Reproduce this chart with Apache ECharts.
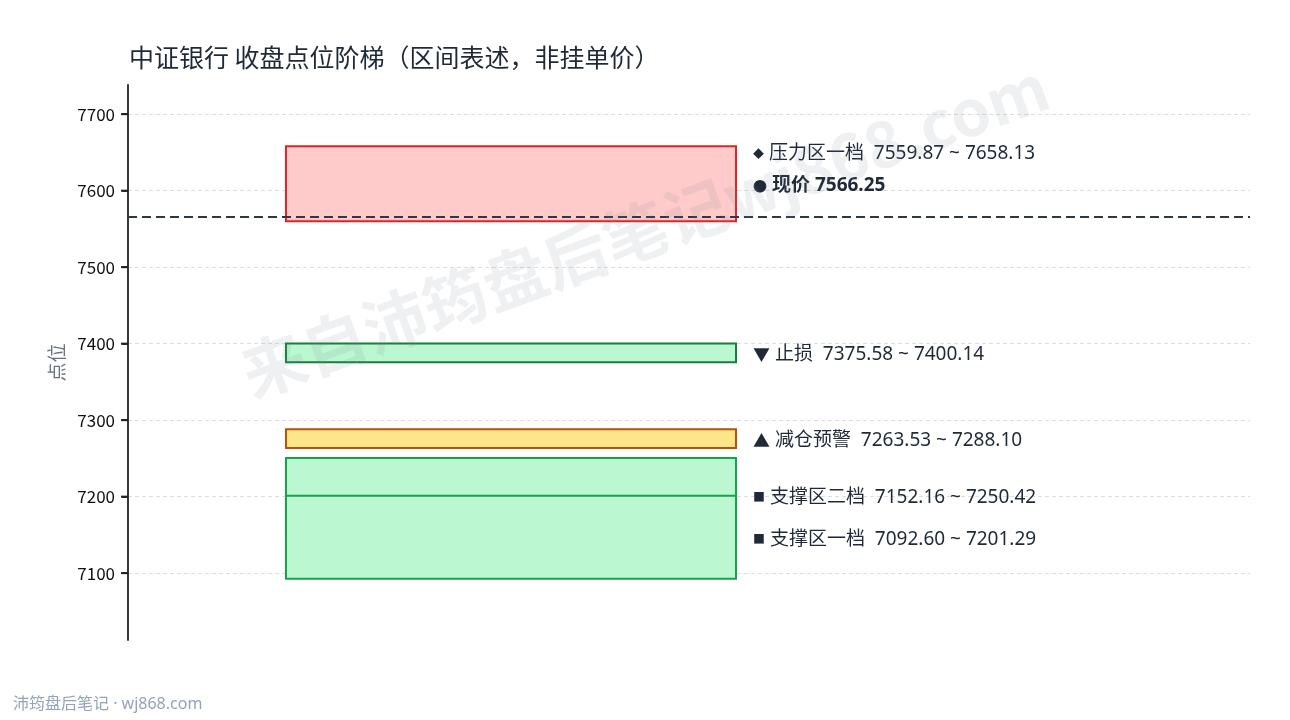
<!DOCTYPE html>
<html>
<head>
<meta charset="utf-8">
<script src="https://cdn.jsdelivr.net/npm/echarts@6/dist/echarts.min.js"></script>
<style>
html,body{margin:0;padding:0;background:#fff;}
#c{width:1290px;height:720px;}
</style>
</head>
<body>
<div id="c"></div>
<script>
// ---- data ----
const zoneNames = ['压力区一档', '止损', '减仓预警', '支撑区二档', '支撑区一档'];
const zoneLow   = [7559.87, 7375.58, 7263.53, 7152.16, 7092.60];
const zoneHigh  = [7658.13, 7400.14, 7288.10, 7250.42, 7201.29];
const zoneMarks = ['◆', '▼', '▲', '■', '■'];
const currentPrice = 7566.25;
const yTicks = [7100, 7200, 7300, 7400, 7500, 7600, 7700];

// ---- styles ----
const zoneFill   = ['#fecaca', '#bbf7d0', '#fde68a', '#bbf7d0', '#bbf7d0'];
const zoneStroke = ['#dc2626', '#15803d', '#b45309', '#16a34a', '#16a34a'];
const markSize   = {'◆': 11, '▼': 17, '▲': 17, '■': 12, '●': 14};
const labelShift = [-32, 0, 0, 0, 0];
const BAR_X0 = 0.1408, BAR_X1 = 0.5419;
const GRID_LEFT = 128;
const FONT = '"Noto Sans", "Noto Sans CJK SC", sans-serif';
const CJK = '"Noto Sans CJK SC", "Noto Sans", sans-serif';

const lo = Math.min(...zoneLow), hi = Math.max(...zoneHigh);
const yMin = lo - 80, yMax = hi + 80;

const zoneData = zoneNames.map((n, i) => [BAR_X1, zoneLow[i], zoneHigh[i], i]);
const pressureCenter = (zoneLow[0] + zoneHigh[0]) / 2;

const baseGraphic = [
  {
    type: 'text',
    x: 645, y: 230,
    rotation: 20 * Math.PI / 180,
    z: 100,
    silent: true,
    style: {
      text: '来自沛筠盘后笔记wj868.com',
      fontFamily: CJK, fontSize: 64, fontWeight: 'bold',
      fill: 'rgba(120,130,150,0.12)',
      align: 'center', verticalAlign: 'middle'
    }
  },
  {
    type: 'text',
    left: 13, top: 696,
    style: {
      text: '沛筠盘后笔记 · wj868.com',
      fontFamily: FONT, fontSize: 16, fill: '#94a3b8'
    }
  }
];

const chart = echarts.init(document.getElementById('c'));
chart.setOption({
  backgroundColor: '#fff',
  animation: false,
  title: {
    text: '中证银行 收盘点位阶梯（区间表述，非挂单价）',
    left: 124, top: 40,
    textStyle: {fontFamily: CJK, fontSize: 25, fontWeight: 'normal', color: '#1f2937'}
  },
  grid: {left: GRID_LEFT, right: 40, top: 85, bottom: 80},
  xAxis: {type: 'value', min: 0, max: 1, show: false},
  yAxis: {
    type: 'value', min: yMin, max: yMax,
    name: '点位', nameLocation: 'middle', nameRotate: 90, nameGap: 62,
    nameTextStyle: {fontFamily: CJK, fontSize: 19, color: '#6b7280'},
    axisLine: {show: true, lineStyle: {color: '#222', width: 1.8}},
    axisTick: {show: true, inside: false, length: 6, lineStyle: {color: '#222', width: 1.8}, customValues: yTicks},
    axisLabel: {fontFamily: CJK, fontSize: 17, color: '#111', margin: 13, customValues: yTicks,
      formatter: v => String(Math.round(v))},
    splitLine: {show: true, lineStyle: {type: [4, 3], color: '#dedede', width: 1}}
  },
  series: [
    {
      type: 'custom',
      data: zoneData,
      z: 3,
      renderItem(params, api) {
        const l = api.value(1), h = api.value(2), i = api.value(3);
        const p0 = api.coord([BAR_X0, h]);
        const p1 = api.coord([BAR_X1, l]);
        const mid = api.coord([BAR_X1, (l + h) / 2]);
        const m = zoneMarks[i];
        return {
          type: 'group',
          children: [
            {
              type: 'rect',
              shape: {x: p0[0], y: p0[1], width: p1[0] - p0[0], height: p1[1] - p0[1]},
              style: {fill: zoneFill[i], stroke: zoneStroke[i], lineWidth: 2}
            },
            {
              type: 'text',
              x: p1[0] + 17, y: mid[1] + labelShift[i] + 2,
              style: {
                text: '{s|' + m + '} ' + zoneNames[i] + '  ' + zoneLow[i].toFixed(2) + ' ~ ' + zoneHigh[i].toFixed(2),
                fontFamily: FONT, fontSize: 19, fill: '#1f2937',
                verticalAlign: 'middle', align: 'left',
                rich: {s: {fontSize: markSize[m], fill: '#1f2937', fontFamily: CJK}}
              }
            }
          ]
        };
      },
      markLine: {
        silent: true, symbol: 'none',
        label: {show: false},
        lineStyle: {type: [9, 5], color: '#2d3748', width: 2.2},
        data: [{yAxis: currentPrice}]
      }
    },
    {
      type: 'custom',
      data: [[BAR_X1, pressureCenter, currentPrice]],
      z: 4,
      renderItem(params, api) {
        const p = api.coord([BAR_X1, api.value(1)]);
        return {
          type: 'text',
          x: p[0] + 17, y: p[1] + 2,
          style: {
            text: '{s|●} 现价 ' + api.value(2).toFixed(2),
            fontFamily: FONT, fontSize: 19, fontWeight: 'bold', fill: '#1f2937',
            verticalAlign: 'middle', align: 'left',
            rich: {s: {fontSize: markSize['●'], fill: '#1f2937', fontFamily: CJK}}
          }
        };
      }
    }
  ],
  graphic: baseGraphic
});

// tick marks placed through the axis scale
const tickGraphic = [];
yTicks.forEach(v => {
  const p = chart.convertToPixel({gridIndex: 0}, [0, v]);
  if (p && isFinite(p[1])) {
    tickGraphic.push({
      type: 'rect', z: 50, silent: true,
      shape: {x: p[0] - 7, y: p[1] - 1, width: 7, height: 2},
      style: {fill: '#222'}
    });
  }
});
chart.setOption({graphic: baseGraphic.concat(tickGraphic)}, {replaceMerge: ['graphic']});
</script>
</body>
</html>
